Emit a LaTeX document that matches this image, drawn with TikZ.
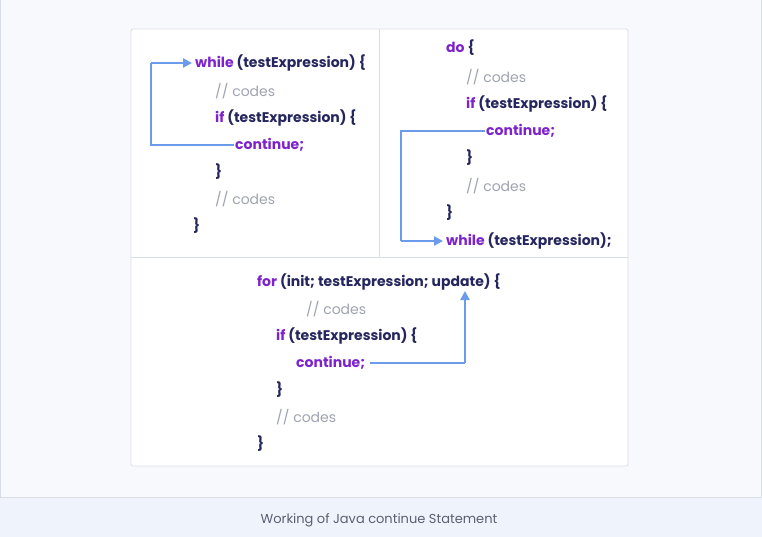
\documentclass[tikz,border=0pt]{standalone}
\usepackage{fontspec}
\setmainfont{Poppins}
\usetikzlibrary{arrows.meta}
\definecolor{bgc}{HTML}{F8F9FD}
\definecolor{capc}{HTML}{EFF3FC}
\definecolor{linec}{HTML}{D9DDE6}
\definecolor{kwc}{HTML}{7E22CE}
\definecolor{txc}{HTML}{25265E}
\definecolor{cmc}{HTML}{A0A4B0}
\definecolor{arc}{HTML}{6B9BEA}
\definecolor{captx}{HTML}{5B5F70}
\newcommand{\kw}[1]{\textcolor{kwc}{#1}}
\tikzset{
  code/.style={anchor=west, inner sep=0pt, font=\fontsize{14}{16}\selectfont\bfseries, text=txc},
  cmt/.style={anchor=west, inner sep=0pt, font=\fontsize{14}{16}\selectfont, text=cmc},
  arr/.style={draw=arc, line width=2.2pt, -{Triangle[length=9pt,width=9pt]}},
  arrn/.style={draw=arc, line width=2.2pt},
}
\begin{document}
\begin{tikzpicture}[x=1pt,y=-1pt]
\useasboundingbox (0,0) rectangle (762,537);
\fill[bgc] (0,0) rectangle (762,537);
\draw[linec, line width=0.8pt] (0.5,0) -- (0.5,537) (761.5,0) -- (761.5,537);
\fill[capc] (0,497) rectangle (762,537);
\draw[linec, line width=0.8pt] (0,497) -- (762,497);
\node[inner sep=0pt, text=captx, font=\fontsize{13}{15}\selectfont] (cap) at (379,520) {Working of Java continue Statement};
% panel
\draw[linec, fill=white, line width=0.8pt, rounded corners=2pt] (131,29) rectangle (628,466);
\draw[linec, line width=0.8pt] (131,257) -- (628,257);
\draw[linec, line width=0.8pt] (379,29) -- (379,257);
% left: while
\node[code] (w1) at (195,63) {\kw{while} (testExpression) \{};
\node[cmt] (w2) at (215,91) {// codes};
\node[code] (w3) at (215,118) {\kw{if} (testExpression) \{};
\node[code] (w4) at (235,145) {\kw{continue;}};
\node[code] (w5) at (215,172) {\}};
\node[cmt] (w6) at (215,199) {// codes};
\node[code] (w7) at (193,226) {\}};
\coordinate (wl) at (151,0);
\draw[arrn] ([xshift=-1pt]w4.west) -- (w4.west -| wl) -- (w1.west -| wl);
\draw[arr] (w1.west -| wl) -- ([xshift=-3pt]w1.west);
% right: do-while
\node[code] (d1) at (446,48) {\kw{do} \{};
\node[cmt] (d2) at (466,77) {// codes};
\node[code] (d3) at (466,104) {\kw{if} (testExpression) \{};
\node[code] (d4) at (486,131) {\kw{continue;}};
\node[code] (d5) at (466,158) {\}};
\node[cmt] (d6) at (466,186) {// codes};
\node[code] (d7) at (446,213) {\}};
\node[code] (d8) at (446,241) {\kw{while} (testExpression);};
\coordinate (dl) at (401,0);
\draw[arrn] ([xshift=-1pt]d4.west) -- (d4.west -| dl) -- (d8.west -| dl);
\draw[arr] (d8.west -| dl) -- ([xshift=-3pt]d8.west);
% bottom: for
\node[code] (f1) at (257,282) {\kw{for} (init; testExpression; update) \{};
\node[cmt] (f2) at (306,309) {// codes};
\node[code] (f3) at (276,336) {\kw{if} (testExpression) \{};
\node[code] (f4) at (296,363) {\kw{continue;}};
\node[code] (f5) at (276,390) {\}};
\node[cmt] (f6) at (276,417) {// codes};
\node[code] (f7) at (257,444) {\}};
\coordinate (fr) at (465,291);
\draw[arrn] ([xshift=5pt]f4.east) -- (f4.east -| fr);
\draw[arr] (f4.east -| fr) -- (fr);
\end{tikzpicture}
\end{document}
